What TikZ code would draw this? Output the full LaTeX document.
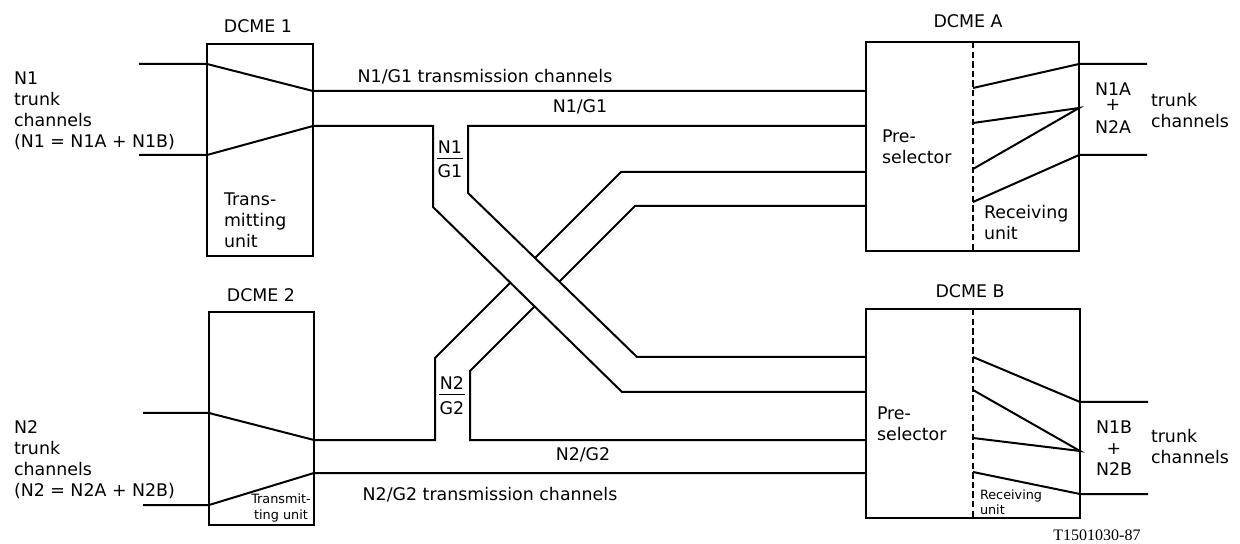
\documentclass[tikz,border=0pt]{standalone}
\usepackage{fontspec}
\setmainfont{DejaVu Sans}
\newfontfamily\codefont{Liberation Serif}
\usetikzlibrary{fit}
\begin{document}
\begin{tikzpicture}[x=0.5pt,y=-0.5pt,line width=1pt,
  box/.style={draw,inner sep=0pt},
  tx/.style={font=\fontsize{8.7}{10.5}\selectfont,inner sep=0pt},
  sm/.style={font=\fontsize{6.4}{7.6}\selectfont,inner sep=0pt},
  ln/.style={line width=1pt,line join=miter},
  dsh/.style={line width=0.8pt,dash pattern=on 3.2pt off 1.6pt}]
\useasboundingbox (0,0) rectangle (1240,544);
% boxes
\node[box,fit={(207,44) (313,256)}] (d1) {};
\node[box,fit={(209,312) (314,525)}] (d2) {};
\node[box,fit={(866,42) (1079,251)}] (dA) {};
\node[box,fit={(866,309) (1080,518)}] (dB) {};
% titles
\node[tx] (t1) at (258,26) {DCME 1};
\node[tx] (t2) at (261,295) {DCME 2};
\node[tx] (tA) at (968,21) {DCME A};
\node[tx] (tB) at (970,291) {DCME B};
% coordinates DCME 1
\coordinate (i1a) at (139,64);  \coordinate (e1a) at (207,64);  \coordinate (o1a) at (313,91);
\coordinate (i1b) at (139,155); \coordinate (e1b) at (207,155); \coordinate (o1b) at (313,126);
% DCME 2
\coordinate (i2a) at (143,413); \coordinate (e2a) at (209,413); \coordinate (o2a) at (314,440);
\coordinate (i2b) at (143,505); \coordinate (e2b) at (209,505); \coordinate (o2b) at (314,473);
% DCME A inputs
\coordinate (pA1) at (866,91); \coordinate (pA2) at (866,126);
\coordinate (pA3) at (866,172); \coordinate (pA4) at (866,206);
% DCME B inputs
\coordinate (pB1) at (866,357); \coordinate (pB2) at (866,392);
\coordinate (pB3) at (866,440); \coordinate (pB4) at (866,473);
% band bends
\coordinate (n1o1) at (433,126); \coordinate (n1o2) at (433,207); \coordinate (n1o3) at (622,392);
\coordinate (n1i1) at (468,126); \coordinate (n1i2) at (468,193); \coordinate (n1i3) at (637,357);
\coordinate (n2o1) at (435,440); \coordinate (n2o2) at (435,358); \coordinate (n2o3) at (621,172);
\coordinate (n2i1) at (470,440); \coordinate (n2i2) at (470,371); \coordinate (n2i3) at (635,206);
% DCME 1 lines
\draw[ln] (i1a) -- (e1a) -- (o1a) -- (pA1);
% N2 band (underneath)
\draw[ln] (i2a) -- (e2a) -- (o2a) -- (n2o1) -- (n2o2) -- (n2o3) -- (pA3);
\draw[ln] (pA4) -- (n2i3) -- (n2i2) -- (n2i1) -- (pB3);
\fill[white] (n1o2) -- (n1i2) -- (n1i3) -- (n1o3) -- cycle;
% N1 band (on top)
\draw[ln] (i1b) -- (e1b) -- (o1b) -- (n1o1) -- (n1o2) -- (n1o3) -- (pB2);
\draw[ln] (pA2) -- (n1i1) -- (n1i2) -- (n1i3) -- (pB1);
\draw[ln] (i2b) -- (e2b) -- (o2b) -- (pB4);
% dashed separators
\coordinate (sA1) at (973,42); \coordinate (sA2) at (973,251);
\coordinate (sB1) at (973,309); \coordinate (sB2) at (973,518);
\draw[dsh] (sA1) -- (sA2);
\draw[dsh] (sB1) -- (sB2);
% DCME A receiving unit
\coordinate (rA1) at (973,88);  \coordinate (rA2) at (973,123);
\coordinate (rA3) at (973,169); \coordinate (rA4) at (973,202);
\coordinate (qA1) at (1079,64); \coordinate (qA2) at (1079,108); \coordinate (qA3) at (1079,155);
\coordinate (xA1) at (1147,64); \coordinate (xA3) at (1147,155);
\draw[ln] (rA1) -- (qA1) -- (xA1);
\draw[ln] (rA2) -- (qA2) -- (rA3);
\draw[ln] (rA4) -- (qA3) -- (xA3);
% DCME B receiving unit
\coordinate (rB1) at (973,357); \coordinate (rB2) at (973,390);
\coordinate (rB3) at (973,438); \coordinate (rB4) at (973,472);
\coordinate (qB1) at (1080,402); \coordinate (qB2) at (1080,451); \coordinate (qB3) at (1080,494);
\coordinate (xB1) at (1148,402); \coordinate (xB3) at (1148,494);
\draw[ln] (rB1) -- (qB1) -- (xB1);
\draw[ln] (rB2) -- (qB2) -- (rB3);
\draw[ln] (rB4) -- (qB3) -- (xB3);
% texts
\node[tx,align=left,anchor=west] (L1) at (13,111) {N1\\trunk\\channels\\(N1 = N1A + N1B)};
\node[tx,align=left,anchor=west] (L2) at (13,460) {N2\\trunk\\channels\\(N2 = N2A + N2B)};
\node[tx,align=left,anchor=west] (tu1) at (223,220) {Trans-\\mitting\\unit};
\node[sm,align=center] (tu2) at (281,508) {Transmit-\\ting unit};
\node[tx] (c1) at (485,77) {N1/G1 transmission channels};
\node[tx] (c2) at (580,107) {N1/G1};
\node[tx] (c3) at (583,455) {N2/G2};
\node[tx] (c4) at (490,495) {N2/G2 transmission channels};
\node[tx] (f1n) at (450,147) {N1};
\node[tx] (f1d) at (450,171) {G1};
\draw[line width=0.7pt] ([yshift=-2pt]f1n.south west) -- ([yshift=-2pt]f1n.south east);
\node[tx] (f2n) at (452,383) {N2};
\node[tx] (f2d) at (452,408) {G2};
\draw[line width=0.7pt] ([yshift=-2pt]f2n.south west) -- ([yshift=-2pt]f2n.south east);
\node[tx,align=left,anchor=west] (psA) at (881,147) {Pre-\\selector};
\node[tx,align=left,anchor=west] (ruA) at (983,223) {Receiving\\unit};
\node[tx,align=center] (sumA) at (1113,108) {N1A\\[-3pt]+\\[1pt]N2A};
\node[tx,align=left,anchor=west] (tcA) at (1150,111) {trunk\\channels};
\node[tx,align=left,anchor=west] (psB) at (876,424) {Pre-\\selector};
\node[sm,align=left,anchor=west] (ruB) at (979,502) {Receiving\\unit};
\node[tx,align=center] (sumB) at (1114,448) {N1B\\+\\N2B};
\node[tx,align=left,anchor=west] (tcB) at (1150,447) {trunk\\channels};
\node[inner sep=0pt,font=\codefont\fontsize{8}{9}\selectfont] (code) at (1097,535) {T1501030-87};
\end{tikzpicture}
\end{document}
